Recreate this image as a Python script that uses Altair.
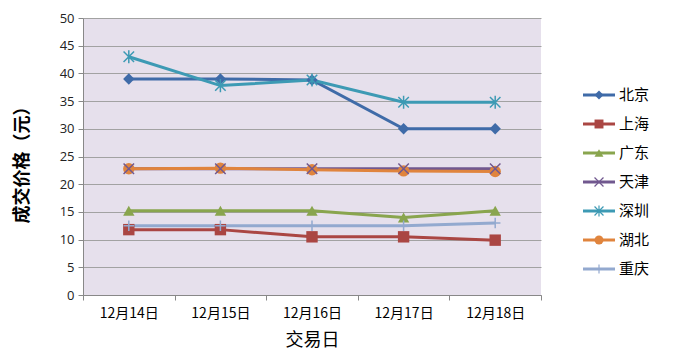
import altair as alt
import pandas as pd

dates = ["12月14日", "12月15日", "12月16日", "12月17日", "12月18日"]
cities = ["北京", "上海", "广东", "天津", "深圳", "湖北", "重庆"]
beijing = [39.0, 39.0, 38.8, 30.0, 30.0]
shanghai = [11.8, 11.8, 10.5, 10.5, 9.9]
guangdong = [15.2, 15.2, 15.2, 14.0, 15.2]
tianjin = [22.8, 22.8, 22.8, 22.8, 22.8]
shenzhen = [43.0, 37.8, 38.8, 34.8, 34.8]
hubei = [22.8, 22.9, 22.6, 22.4, 22.3]
chongqing = [12.5, 12.5, 12.5, 12.5, 13.0]
y_ticks = [0, 5, 10, 15, 20, 25, 30, 35, 40, 45, 50]

series = [beijing, shanghai, guangdong, tianjin, shenzhen, hubei, chongqing]
colors = ["#3F6BA8", "#AA4643", "#89A54E", "#71588F", "#3D9AB4", "#E0843D", "#93A9CF"]
shapes = [
    "diamond",
    "square",
    "triangle-up",
    "M-1,-1L1,1M-1,1L1,-1",
    "M-1,-1L1,1M-1,1L1,-1M0,-1.25L0,1.25",
    "circle",
    "M-1,0L1,0M0,-1L0,1",
]
filled_set = ["北京", "上海", "广东", "湖北"]

rows = []
for ci, (c, vals) in enumerate(zip(cities, series)):
    for d, v in zip(dates, vals):
        rows.append({"date": d, "city": c, "value": v, "order": ci})
df = pd.DataFrame(rows)

leg = pd.DataFrame({"city": cities, "i": list(range(len(cities)))})

font_cjk = "Noto Sans CJK SC"
color_scale = alt.Scale(domain=cities, range=colors)
shape_scale = alt.Scale(domain=cities, range=shapes)

x_axis = alt.Axis(
    title="交易日",
    titleFont=font_cjk,
    titleFontSize=18,
    titleFontWeight="normal",
    titleColor="#000000",
    titleX=229,
    titleY=45,
    titleBaseline="middle",
    labelAngle=0,
    labelFont=font_cjk,
    labelFontSize=14,
    labelColor="#000000",
    labelPadding=6,
    tickBand="extent",
    tickSize=5,
    tickColor="#888888",
    domainColor="#888888",
    grid=False,
)
y_axis = alt.Axis(
    title="成交价格（元）",
    titleFont=font_cjk,
    titleFontSize=18,
    titleFontWeight="bold",
    titleColor="#000000",
    titleX=-61,
    titleY=142,
    titleAlign="center",
    titleBaseline="middle",
    values=y_ticks,
    labelOverlap=False,
    labelFont="Open Sans",
    labelFontSize=13,
    labelColor="#222222",
    labelPadding=4,
    tickSize=5,
    tickColor="#888888",
    domainColor="#888888",
    gridColor="#A2A2A2",
    gridWidth=1,
)
x_enc = alt.X("date:N", sort=dates, scale=alt.Scale(paddingInner=0, paddingOuter=0), axis=x_axis)
y_enc = alt.Y("value:Q", scale=alt.Scale(domain=[0, 50], nice=False), axis=y_axis)

base = alt.Chart(df)
lines = base.mark_line(strokeWidth=3).encode(
    x=x_enc,
    y=y_enc,
    color=alt.Color("city:N", scale=color_scale, legend=None),
    detail="city:N",
    order="order:Q",
)
pts_filled = base.transform_filter(
    alt.FieldOneOfPredicate(field="city", oneOf=filled_set)
).mark_point(filled=True, opacity=1, size=130).encode(
    x=x_enc,
    y=y_enc,
    color=alt.Color("city:N", scale=color_scale, legend=None),
    shape=alt.Shape("city:N", scale=shape_scale, legend=None),
)
pts_stroked = base.transform_filter(
    alt.FieldOneOfPredicate(field="city", oneOf=[c for c in cities if c not in filled_set])
).mark_point(filled=False, opacity=1, size=110, strokeWidth=1.5).encode(
    x=x_enc,
    y=y_enc,
    color=alt.Color("city:N", scale=color_scale, legend=None),
    shape=alt.Shape("city:N", scale=shape_scale, legend=None),
)

ly = alt.Y("i:Q", scale=alt.Scale(domain=[0, 6], range=[77, 251]), axis=None)
lbase = alt.Chart(leg)
leg_line = lbase.mark_rule(strokeWidth=3).encode(
    x=alt.value(41),
    x2=alt.value(73),
    y=ly,
    color=alt.Color("city:N", scale=color_scale, legend=None),
)
leg_pf = lbase.transform_filter(
    alt.FieldOneOfPredicate(field="city", oneOf=filled_set)
).mark_point(filled=True, opacity=1, size=80).encode(
    x=alt.value(57),
    y=ly,
    color=alt.Color("city:N", scale=color_scale, legend=None),
    shape=alt.Shape("city:N", scale=shape_scale, legend=None),
)
leg_ps = lbase.transform_filter(
    alt.FieldOneOfPredicate(field="city", oneOf=[c for c in cities if c not in filled_set])
).mark_point(filled=False, opacity=1, size=80, strokeWidth=1.2).encode(
    x=alt.value(57),
    y=ly,
    color=alt.Color("city:N", scale=color_scale, legend=None),
    shape=alt.Shape("city:N", scale=shape_scale, legend=None),
)
leg_txt = lbase.mark_text(align="left", baseline="middle", font=font_cjk, fontSize=15, color="#000000").encode(
    x=alt.value(77),
    y=ly,
    text="city:N",
)

main = alt.layer(lines, pts_filled, pts_stroked).properties(
    width=458, height=277, view=alt.ViewBackground(fill="#E6E0EC", stroke=None)
)
legend = alt.layer(leg_line, leg_pf, leg_ps, leg_txt).properties(
    width=130, height=277, view=alt.ViewBackground(stroke=None)
)

chart = alt.hconcat(main, legend, spacing=0).properties(
    padding={"left": 13, "top": 12, "right": 5, "bottom": 5},
    background="#FFFFFF",
).configure_view(stroke=None)

chart.save("out.html", embed_options={"renderer": "svg", "actions": False})
